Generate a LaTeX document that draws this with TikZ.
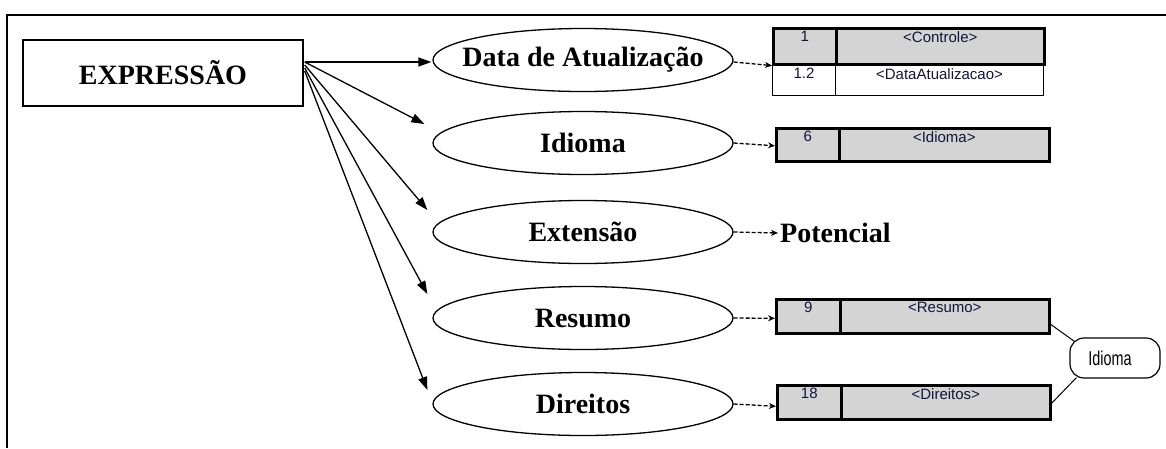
\documentclass[tikz,border=0pt]{standalone}
\usepackage{fontspec}
\setmainfont{Liberation Serif}
\newfontfamily\sansf{Liberation Sans}
\usetikzlibrary{arrows.meta,shapes.geometric}
\definecolor{cellgray}{RGB}{212,212,212}
\definecolor{txtnavy}{RGB}{20,20,60}
\newcommand{\nowidth}[1]{\makebox[0pt]{#1}}
\tikzset{
  mainbox/.style={draw, line width=1.4pt, rectangle, minimum width=280pt, minimum height=66pt, inner sep=0pt, font=\fontsize{28}{30}\selectfont\bfseries},
  ell/.style={draw, line width=1.3pt, ellipse, minimum width=300pt, minimum height=63pt, inner sep=0pt, font=\fontsize{28}{30}\selectfont\bfseries},
  arr/.style={line width=1.3pt, -{Triangle[length=13pt,width=9pt]}},
  darr/.style={line width=1.3pt, dash pattern=on 4pt off 2pt, -{Stealth[length=7pt,width=6pt]}},
  cellg/.style={draw, line width=2.6pt, fill=cellgray, rectangle, inner sep=0pt, anchor=north west},
  cellw/.style={draw, line width=1pt, fill=white, rectangle, inner sep=0pt, anchor=north west},
  celltxt/.style={inner sep=0pt, anchor=north, font=\sansf\fontsize{15}{17}\selectfont, text=txtnavy},
  plain/.style={inner sep=0pt, font=\fontsize{28}{30}\selectfont\bfseries},
  rbox/.style={draw, line width=1.2pt, rectangle, rounded corners=14pt, minimum width=90pt, minimum height=40pt, inner sep=0pt, font=\sansf\fontsize{20}{22}\selectfont},
  thin/.style={line width=1pt}
}
\begin{document}
\begin{tikzpicture}[x=1pt,y=-1pt]
\useasboundingbox (0,0) rectangle (1166,448);
\fill[white] (0,0) rectangle (1166,448);
% outer frame
\draw[line width=1.5pt] (7,448) -- (7,15) -- (1166,15);

\node[mainbox] (expr) at (163,73) {EXPRESS\~AO};
\node[ell] (data) at (583,60) {\nowidth{Data de Atualização}};
\node[ell] (idi) at (583,143) {\nowidth{Idioma}};
\node[ell] (ext) at (583,232) {\nowidth{Extensão}};
\node[ell] (res) at (583,318) {\nowidth{Resumo}};
\node[ell] (dir) at (583,404) {\nowidth{Direitos}};

\coordinate (src) at ([xshift=1pt,yshift=11pt]expr.east);
\draw[arr] (src) -- ([xshift=-1pt,yshift=-2pt]data.west);
\draw[arr] (src) -- ([xshift=-8pt,yshift=19pt]idi.west);
\draw[arr] ([yshift=-3pt]src) -- ([xshift=-5pt,yshift=22pt]ext.west);
\draw[arr] ([yshift=-6pt]src) -- ([xshift=-5pt,yshift=24pt]res.west);
\draw[arr] ([yshift=-9pt]src) -- ([xshift=-5pt,yshift=14pt]dir.west);

% Controle table
\node[cellw, minimum width=63pt, minimum height=32pt] (c2a) at (772,63) {};
\node[cellw, minimum width=208pt, minimum height=32pt] (c2b) at (835,63) {};
\node[cellg, minimum width=63pt, minimum height=36pt] (c1a) at (772,27) {};
\node[cellg, minimum width=208pt, minimum height=36pt] (c1b) at (835,27) {};
\node[celltxt] (t1a) at ([yshift=-4pt]c1a.north) {1};
\node[celltxt] (t1b) at ([yshift=-4pt]c1b.north) {<Controle>};
\node[celltxt] (t2a) at ([yshift=-5pt]c2a.north) {1.2};
\node[celltxt] (t2b) at ([yshift=-5pt]c2b.north) {<DataAtualizacao>};

% Idioma table
\node[cellg, minimum width=63pt, minimum height=33pt] (i1a) at (775,127) {};
\node[cellg, minimum width=210pt, minimum height=33pt] (i1b) at (838,127) {};
\node[celltxt] (ti1a) at ([yshift=-4pt]i1a.north) {6};
\node[celltxt] (ti1b) at ([yshift=-4pt]i1b.north) {<Idioma>};

% Resumo table
\node[cellg, minimum width=64pt, minimum height=34pt] (r1a) at (775,298) {};
\node[cellg, minimum width=209pt, minimum height=34pt] (r1b) at (839,298) {};
\node[celltxt] (tr1a) at ([yshift=-4pt]r1a.north) {9};
\node[celltxt] (tr1b) at ([yshift=-4pt]r1b.north) {<Resumo>};

% Direitos table
\node[cellg, minimum width=64pt, minimum height=34pt] (d1a) at (776,384) {};
\node[cellg, minimum width=209pt, minimum height=34pt] (d1b) at (840,384) {};
\node[celltxt] (td1a) at ([yshift=-4pt]d1a.north) {18};
\node[celltxt] (td1b) at ([yshift=-4pt]d1b.north) {<Direitos>};

% Potencial
\node[plain, anchor=west] (pot) at (780,233) {Potencial};

% dashed arrows
\draw[darr] ([yshift=-2pt]data.east) -- (c1a.south west);
\draw[darr] (idi.east) -- ([yshift=-1pt]i1a.west);
\draw[darr] (ext.east) -- ([xshift=-2pt]pot.west);
\draw[darr] (res.east) -- ([yshift=-2pt]r1a.west);
\draw[darr] (dir.east) -- ([yshift=-4pt]d1a.west);

% Idioma rounded box
\node[rbox] (lang) at (1115,358) {\hspace*{-10pt}\scalebox{0.72}[1]{Idioma}};
\draw[thin] ([yshift=-8pt]r1b.east) -- ([xshift=5pt,yshift=-4pt]lang.north west);
\draw[thin] ([yshift=-1pt]d1b.east) -- ([xshift=7pt,yshift=1pt]lang.south west);
\end{tikzpicture}
\end{document}
